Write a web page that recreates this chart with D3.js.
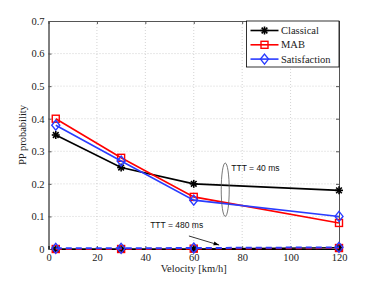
<!DOCTYPE html>
<html>
<head>
<meta charset="utf-8">
<script src="https://cdn.jsdelivr.net/npm/d3@7"></script>
<style>
  body { margin: 0; background: #fff; }
  svg { display: block; }
</style>
</head>
<body>
<script>
// data
var velocity = [3, 30, 60, 120];
var classical40 = [0.35, 0.25, 0.20, 0.18];
var mab40 = [0.40, 0.28, 0.16, 0.08];
var satisfaction40 = [0.38, 0.27, 0.15, 0.10];
var classical480 = [0.0, 0.0, 0.0, 0.004];
var mab480 = [0.0, 0.0, 0.001, 0.003];
var satisfaction480 = [0.002, 0.002, 0.003, 0.005];
var xTicks = [0, 20, 40, 60, 80, 100, 120];
var yTicks = [0, 0.1, 0.2, 0.3, 0.4, 0.5, 0.6, 0.7];
var seriesNames = ["Classical", "MAB", "Satisfaction"];

var width = 374, height = 281;
var margin = { top: 21, right: 35, bottom: 32, left: 48.5 };
var w = width - margin.left - margin.right,
    h = height - margin.top - margin.bottom;

var svg = d3.select("body").append("svg")
    .attr("width", width)
    .attr("height", height);

var g = svg.append("g")
    .attr("transform", "translate(" + margin.left + "," + margin.top + ")");

var x = d3.scaleLinear().domain([0, 120]).range([0, w]);
var y = d3.scaleLinear().domain([0, 0.7]).range([h, 0]);

var serif = "'Liberation Serif', 'Times New Roman', serif";
var sans = "'Liberation Sans', Arial, sans-serif";

// grid
g.selectAll(".gx").data(xTicks.slice(1, -1)).enter().append("line")
  .attr("x1", d => x(d)).attr("x2", d => x(d))
  .attr("y1", 0).attr("y2", h)
  .attr("stroke", "#c8c8c8").attr("stroke-width", 0.8)
  .attr("stroke-dasharray", "1,2");
g.selectAll(".gy").data(yTicks.slice(1, -1)).enter().append("line")
  .attr("x1", 0).attr("x2", w)
  .attr("y1", d => y(d)).attr("y2", d => y(d))
  .attr("stroke", "#c8c8c8").attr("stroke-width", 0.8)
  .attr("stroke-dasharray", "1,2");

// axes (ticks inward, MATLAB style)
var xAxis = g.append("g").attr("transform", "translate(0," + h + ")")
  .call(d3.axisBottom(x).tickValues(xTicks).tickSize(-3).tickPadding(5));
var yAxis = g.append("g")
  .call(d3.axisLeft(y).tickValues(yTicks).tickSize(-3).tickPadding(4)
    .tickFormat(d => d === 0 ? "0" : d3.format(".1f")(d)));
var xTop = g.append("g")
  .call(d3.axisTop(x).tickValues(xTicks).tickSize(-3).tickFormat(""));
var yRight = g.append("g").attr("transform", "translate(" + w + ",0)")
  .call(d3.axisRight(y).tickValues(yTicks).tickSize(-3).tickFormat(""));

[xAxis, yAxis, xTop, yRight].forEach(function(a) {
  a.attr("font-family", serif).attr("font-size", 10.5);
  a.selectAll("path").attr("stroke", "#555").attr("stroke-width", 1);
  a.selectAll("line").attr("stroke", "#555");
  a.selectAll("text").attr("fill", "#222");
});
xAxis.select("path").attr("stroke", "#000");
yAxis.select("path").attr("stroke", "#000");

// labels
svg.append("text")
  .attr("x", margin.left + x(60)).attr("y", 272)
  .attr("text-anchor", "middle")
  .attr("font-family", serif).attr("font-size", 10.5).attr("fill", "#222")
  .text("Velocity [km/h]");
svg.append("text")
  .attr("transform", "translate(26," + (margin.top + h / 2) + ") rotate(-90)")
  .attr("text-anchor", "middle")
  .attr("font-family", serif).attr("font-size", 10.5).attr("fill", "#222")
  .text("PP probability");

var line = d3.line().x((d, i) => x(velocity[i])).y(d => y(d));

// marker drawers
function star(sel, cx, cy, color) {
  var r = 4;
  for (var k = 0; k < 4; k++) {
    var a = k * Math.PI / 4;
    sel.append("line")
      .attr("x1", cx - r * Math.cos(a)).attr("y1", cy - r * Math.sin(a))
      .attr("x2", cx + r * Math.cos(a)).attr("y2", cy + r * Math.sin(a))
      .attr("stroke", color).attr("stroke-width", 1.6);
  }
}
function square(sel, cx, cy, color) {
  sel.append("rect")
    .attr("x", cx - 3.5).attr("y", cy - 3.5)
    .attr("width", 7).attr("height", 7)
    .attr("fill", "none").attr("stroke", color).attr("stroke-width", 1.4);
}
function diamond(sel, cx, cy, color) {
  sel.append("path")
    .attr("d", "M" + cx + "," + (cy - 5) + "L" + (cx + 4) + "," + cy +
      "L" + cx + "," + (cy + 5) + "L" + (cx - 4) + "," + cy + "Z")
    .attr("fill", "none").attr("stroke", color).attr("stroke-width", 1.4);
}

var series = [
  { vals: classical480, color: "#000", marker: star, dash: null },
  { vals: mab480, color: "#f00", marker: square, dash: "6,4" },
  { vals: satisfaction480, color: "#2a3cff", marker: diamond, dash: "6,4" },
  { vals: classical40, color: "#000", marker: star, dash: null },
  { vals: mab40, color: "#f00", marker: square, dash: null },
  { vals: satisfaction40, color: "#2a3cff", marker: diamond, dash: null }
];

series.forEach(function(s) {
  g.append("path")
    .attr("d", line(s.vals))
    .attr("fill", "none")
    .attr("stroke", s.color)
    .attr("stroke-width", s.dash ? 2 : 1.6)
    .attr("stroke-dasharray", s.dash);
  s.vals.forEach(function(v, i) {
    s.marker(g, x(velocity[i]), y(v), s.color);
  });
});

// annotations
g.append("ellipse")
  .attr("cx", x(73)).attr("cy", y(0.182))
  .attr("rx", 4).attr("ry", y(0.1) - y(0.182))
  .attr("fill", "none").attr("stroke", "#555").attr("stroke-width", 0.8);
g.append("text")
  .attr("x", x(75.5)).attr("y", y(0.24))
  .attr("font-family", sans).attr("font-size", 8.5).attr("fill", "#111")
  .text("TTT = 40 ms");
g.append("text")
  .attr("x", x(42)).attr("y", y(0.063))
  .attr("font-family", sans).attr("font-size", 8.5).attr("fill", "#111")
  .text("TTT = 480 ms");

svg.append("defs").append("marker")
  .attr("id", "arr").attr("viewBox", "0 0 10 10")
  .attr("refX", 10).attr("refY", 5)
  .attr("markerWidth", 7).attr("markerHeight", 7)
  .attr("orient", "auto")
  .append("path").attr("d", "M0,1.5L10,5L0,8.5Z").attr("fill", "#000");
g.append("line")
  .attr("x1", x(58)).attr("y1", y(0.04))
  .attr("x2", x(70.5)).attr("y2", y(0.012))
  .attr("stroke", "#000").attr("stroke-width", 0.8)
  .attr("marker-end", "url(#arr)");

// legend
var lg = svg.append("g").attr("transform", "translate(246.5," + margin.top + ")");
lg.append("rect").attr("width", w + margin.left - 246.5).attr("height", 46)
  .attr("fill", "#fff").attr("stroke", "#000").attr("stroke-width", 0.8);
var legendStyles = [
  { color: "#000", marker: star },
  { color: "#f00", marker: square },
  { color: "#2a3cff", marker: diamond }
];
seriesNames.forEach(function(name, i) {
  var ly = 9.5 + i * 14.3;
  lg.append("line").attr("x1", 4).attr("x2", 32).attr("y1", ly).attr("y2", ly)
    .attr("stroke", legendStyles[i].color).attr("stroke-width", 1.6);
  legendStyles[i].marker(lg, 18, ly, legendStyles[i].color);
  lg.append("text").attr("x", 34.5).attr("y", ly + 3.5)
    .attr("font-family", serif).attr("font-size", 10.5).attr("fill", "#222")
    .text(name);
});
</script>
</body>
</html>
